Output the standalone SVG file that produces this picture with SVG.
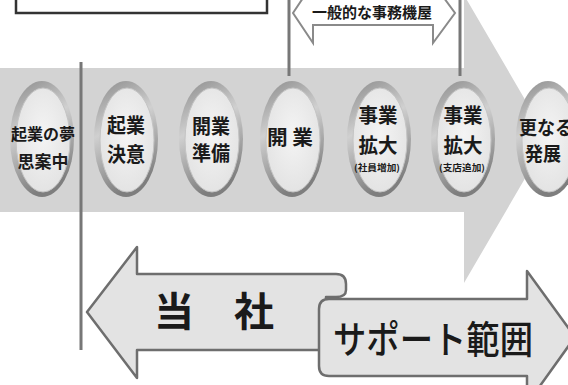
<svg xmlns="http://www.w3.org/2000/svg" width="568" height="385" viewBox="0 0 568 385">
<defs>
<linearGradient id="rim" x1="0" y1="0" x2="0.3" y2="1">
<stop offset="0" stop-color="#8a8a8a"/>
<stop offset="0.45" stop-color="#d0d0d0"/>
<stop offset="1" stop-color="#7e7e7e"/>
</linearGradient>
<radialGradient id="face" cx="0.5" cy="0.45" r="0.6">
<stop offset="0" stop-color="#f4f4f4"/>
<stop offset="1" stop-color="#e2e2e2"/>
</radialGradient>
</defs>
<style>
.t{font-family:"Noto Sans CJK JP","Noto Sans CJK SC",sans-serif;font-weight:bold;fill:#1a1a1a;text-anchor:middle}
.m{font-weight:500}
.rim{fill:url(#rim)}
.face{fill:url(#face);stroke:#c4c4c4;stroke-width:1}
.vline{stroke:#777;stroke-width:3;fill:none}
.big{fill:#d3d3d3}
.band{fill:#e3e3e3;stroke:#6e6e6e;stroke-width:2.5;stroke-linejoin:round}
</style>
<rect width="568" height="385" fill="#fff"/>

<g id="top-box">
<rect x="16" y="-20" width="251" height="33" fill="#fff" stroke="#333" stroke-width="2.5"/>
</g>

<g id="main-arrow">
<polygon class="big" points="0,68 464,68 464,-5 548,139 464,283 464,212 0,212"/>
</g>

<g id="connectors">
<line class="vline" x1="81" y1="62" x2="81" y2="350"/>
<line class="vline" x1="289" y1="0" x2="289" y2="76"/>
<line class="vline" x1="460" y1="0" x2="460" y2="76"/>
</g>

<g id="header-arrow">
<polygon points="293,13 313,-17 313,-6 433,-6 433,-17 455,13 433,43 433,25 313,25 313,43" fill="#fff" stroke="#8a8a8a" stroke-width="2"/>
<text class="t" x="372" y="18" font-size="15" fill="#333" textLength="120" lengthAdjust="spacingAndGlyphs">一般的な事務機屋</text>
</g>

<g id="node-yume">
<ellipse class="rim" cx="42" cy="139" rx="32" ry="58"/>
<ellipse class="face" cx="43" cy="140" rx="27" ry="52"/>
<text class="t" x="43" y="140" font-size="16" textLength="64" lengthAdjust="spacingAndGlyphs">起業の夢</text>
<text class="t" x="43" y="168" font-size="17">思案中</text>
</g>

<g id="node-ketsui">
<ellipse class="rim" cx="126" cy="139" rx="32" ry="58"/>
<ellipse class="face" cx="127" cy="140" rx="27" ry="52"/>
<text class="t" x="126" y="133" font-size="20" textLength="38" lengthAdjust="spacingAndGlyphs">起業</text>
<text class="t" x="126" y="162" font-size="20" textLength="38" lengthAdjust="spacingAndGlyphs">決意</text>
</g>

<g id="node-junbi">
<ellipse class="rim" cx="211" cy="139" rx="32" ry="58"/>
<ellipse class="face" cx="212" cy="140" rx="27" ry="52"/>
<text class="t" x="211" y="134" font-size="20" textLength="38" lengthAdjust="spacingAndGlyphs">開業</text>
<text class="t" x="211" y="161" font-size="20" textLength="38" lengthAdjust="spacingAndGlyphs">準備</text>
</g>

<g id="node-kaigyo">
<ellipse class="rim" cx="292" cy="139" rx="32" ry="58"/>
<ellipse class="face" cx="293" cy="140" rx="27" ry="52"/>
<text class="t" x="290" y="145" font-size="20" textLength="46" lengthAdjust="spacingAndGlyphs">開 業</text>
</g>

<g id="node-kakudai1">
<ellipse class="rim" cx="379" cy="139" rx="32" ry="58"/>
<ellipse class="face" cx="380" cy="140" rx="27" ry="52"/>
<text class="t" x="378" y="123" font-size="20" textLength="39" lengthAdjust="spacingAndGlyphs">事業</text>
<text class="t" x="378" y="153" font-size="20" textLength="39" lengthAdjust="spacingAndGlyphs">拡大</text>
<text class="t" x="377" y="171" font-size="9" textLength="46" lengthAdjust="spacingAndGlyphs">(社員増加)</text>
</g>

<g id="node-kakudai2">
<ellipse class="rim" cx="463" cy="139" rx="32" ry="58"/>
<ellipse class="face" cx="464" cy="140" rx="27" ry="52"/>
<text class="t" x="463" y="123" font-size="20" textLength="39" lengthAdjust="spacingAndGlyphs">事業</text>
<text class="t" x="463" y="153" font-size="20" textLength="39" lengthAdjust="spacingAndGlyphs">拡大</text>
<text class="t" x="462" y="171" font-size="9" textLength="46" lengthAdjust="spacingAndGlyphs">(支店追加)</text>
</g>

<g id="node-hatten">
<ellipse class="rim" cx="548" cy="139" rx="32" ry="58"/>
<ellipse class="face" cx="549" cy="140" rx="27" ry="52"/>
<text class="t" x="546" y="135" font-size="19" textLength="54" lengthAdjust="spacingAndGlyphs">更なる</text>
<text class="t" x="543" y="161" font-size="19" textLength="36" lengthAdjust="spacingAndGlyphs">発展</text>
</g>

<g id="tousha-arrow">
<path class="band" d="M87,312 L137,247 L137,274 L336,274 Q346,274 346,284 L346,290 Q346,297 336,297 L326,297 L326,350 L137,350 L137,378 Z"/>
<text class="t" x="214" y="326" font-size="40">当　社</text>
</g>

<g id="support-arrow">
<path class="band" d="M329,299 L527,299 L527,271 L575,337 L527,404 L527,376 L329,376 Q319,376 319,366 L319,309 Q319,299 329,299 Z"/>
<text class="t m" x="433" y="353" font-size="38" textLength="200" lengthAdjust="spacingAndGlyphs">サポート範囲</text>
</g>
</svg>
